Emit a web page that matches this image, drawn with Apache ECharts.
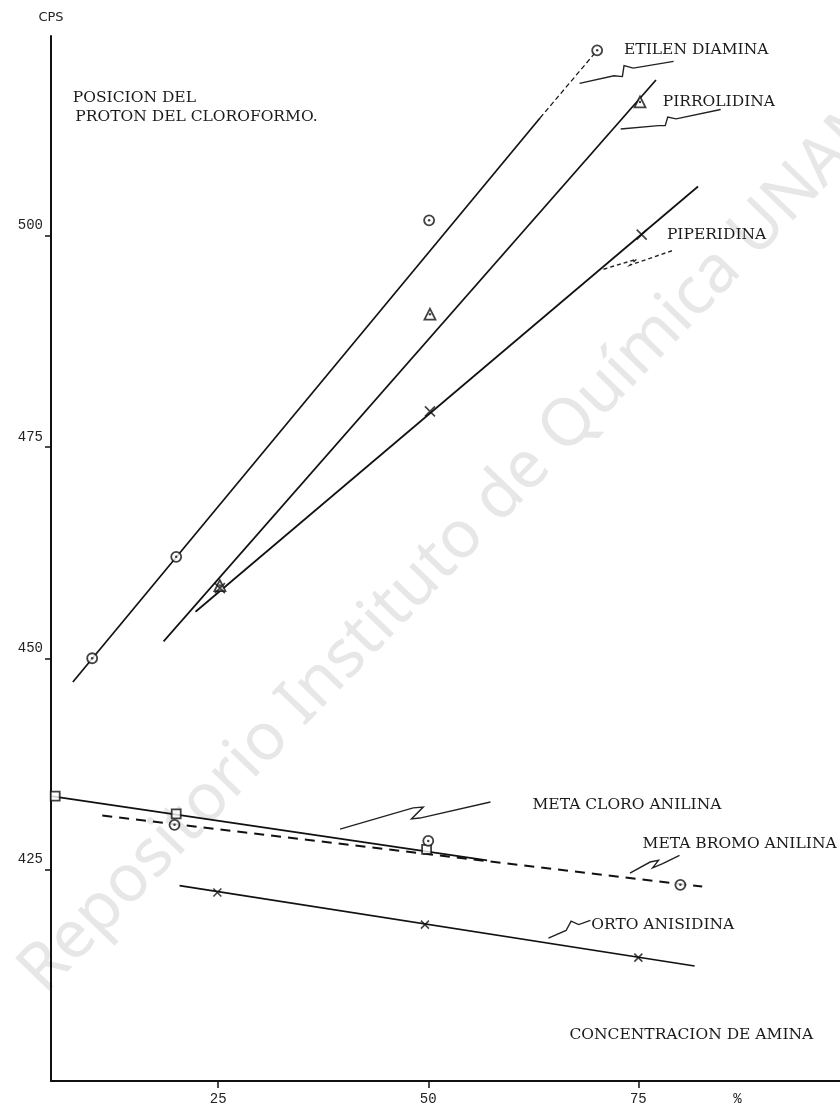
<!DOCTYPE html>
<html>
<head>
<meta charset="utf-8">
<script src="https://cdn.jsdelivr.net/npm/echarts@6/dist/echarts.min.js"></script>
<style>html,body{margin:0;padding:0;background:#fff}#chart{width:840px;height:1112px}</style>
</head>
<body>
<div id="chart"></div>
<script>
var xTicks = [25, 50, 75];
var yTicks = [425, 450, 475, 500];

// measured points: [concentracion %, CPS]
var etilenPts = [[10, 450.0], [20, 462.0], [50.1, 501.8], [70.1, 521.9]];
var pirrolPts = [[25.2, 458.6], [50.2, 490.7], [75.2, 515.8]];
var piperPts = [[25.2, 458.3], [50.2, 479.2], [75.4, 500.1]];
var mClPts = [[5.6, 433.7], [20, 431.6], [49.8, 427.4]];
var mBrPts = [[19.8, 430.3], [50.0, 428.4], [80.0, 423.2]];
var ortoPts = [[24.9, 422.3], [49.6, 418.5], [75.0, 414.6]];

// hand drawn fit lines
var etilenLine = [[7.7, 447.2], [63.3, 513.9]];
var etilenLineTop = [[63.3, 513.9], [70.1, 521.9]];
var pirrolLine = [[18.5, 452.0], [77.1, 518.4]];
var piperLine = [[22.3, 455.5], [82.1, 505.8]];
var mClLine = [[5.1, 433.7], [57.0, 426.1]];
var mBrLine = [[11.2, 431.4], [82.6, 423.0]];
var ortoLine = [[20.4, 423.1], [81.7, 413.6]];

// squiggly pointer arrows
var arrEtilen = [[79.2, 520.6], [74.4, 519.8], [73.3, 520.1], [73.1, 518.8], [72.1, 518.9], [68.0, 518.0]];
var arrPirrol = [[84.8, 514.9], [79.5, 513.8], [78.5, 514.0], [78.2, 513.0], [77.4, 513.0], [72.9, 512.6]];
var arrPiper = [[79.0, 498.2], [74.0, 496.5], [74.8, 497.2], [70.8, 496.0]];
var arrMCl = [[57.4, 433.0], [49.0, 431.1], [48.0, 431.0], [49.4, 432.4], [48.2, 432.3], [39.5, 429.8]];
var arrMBr = [[79.9, 426.7], [77.9, 425.7], [76.7, 425.2], [77.4, 426.1], [76.4, 425.9], [74.0, 424.6]];
var arrOrto = [[69.3, 419.0], [67.9, 418.5], [67.0, 418.9], [66.4, 417.8], [64.3, 416.9]];

// text labels [text, x, y]
var labels = [
    ['ETILEN DIAMINA', 73.3, 522.0],
    ['PIRROLIDINA', 77.9, 515.8],
    ['PIPERIDINA', 78.4, 500.1],
    ['META CLORO ANILINA', 62.4, 432.7],
    ['META BROMO ANILINA', 75.5, 428.0],
    ['ORTO ANISIDINA', 69.4, 418.5],
    ['CONCENTRACION DE AMINA', 66.8, 405.5],
    ['POSICION DEL', 7.7, 516.3],
    ['PROTON DEL CLOROFORMO.', 8.0, 514.0]
];

var chart = echarts.init(document.getElementById('chart'));

function fitLine(data, dashed, width) {
    return {
        type: 'line', data: data, symbol: 'none', silent: true, z: 3,
        lineStyle: {color: '#111', width: width || 1.7, type: dashed || 'solid'}
    };
}
function marks(data, symbol, size) {
    return {
        type: 'scatter', data: data, symbol: symbol, symbolSize: size, z: 4,
        itemStyle: {color: '#fff', borderColor: '#111', borderWidth: 1.8}
    };
}
function dots(data) {
    return {
        type: 'scatter', data: data, symbol: 'circle', symbolSize: 2.5, z: 5,
        itemStyle: {color: '#111'}
    };
}
function crosses(data, size) {
    return {
        type: 'scatter', data: data, symbol: 'path://M0,0L10,10M10,0L0,10', symbolSize: size, z: 4,
        itemStyle: {color: 'transparent', borderColor: '#111', borderWidth: 1.6}
    };
}
function arrow(coords, dashed) {
    return {
        type: 'lines', coordinateSystem: 'cartesian2d', polyline: true, silent: true, z: 3,
        symbol: ['none', 'arrow'], symbolSize: 7,
        lineStyle: {color: '#222', width: 1.4, type: dashed ? [4, 3] : 'solid', opacity: 1},
        data: [{coords: coords}]
    };
}

var option = {
    animation: false,
    grid: {left: 51, right: 0, top: 36, bottom: 31},
    xAxis: {
        type: 'value', min: 5.1, max: 99,
        splitLine: {show: false},
        axisLine: {onZero: false, lineStyle: {color: '#111', width: 2}},
        axisTick: {length: 7, customValues: xTicks, lineStyle: {color: '#111', width: 1.5}},
        axisLabel: {
            customValues: xTicks.concat([86.8]), margin: 11,
            fontFamily: 'Liberation Mono', fontSize: 14, color: '#222',
            formatter: function (v) { return v > 80 ? '%' : String(v); }
        }
    },
    yAxis: {
        type: 'value', min: 400, max: 523.6,
        name: 'CPS', nameGap: 12,
        nameTextStyle: {fontFamily: 'DejaVu Sans', fontSize: 13, color: '#222', align: 'center'},
        splitLine: {show: false},
        axisLine: {onZero: false, lineStyle: {color: '#111', width: 2}},
        axisTick: {length: 6, customValues: yTicks, lineStyle: {color: '#111', width: 1.5}},
        axisLabel: {
            customValues: yTicks, margin: 8, verticalAlign: 'bottom', padding: [0, 0, 3, 0],
            fontFamily: 'Liberation Mono', fontSize: 14, color: '#222'
        }
    },
    series: [
        fitLine(etilenLine), fitLine(etilenLineTop, [5, 3], 1.2),
        fitLine(pirrolLine), fitLine(piperLine),
        fitLine(mClLine), fitLine(mBrLine, [10, 7], 2), fitLine(ortoLine),
        marks(etilenPts, 'circle', 10), dots(etilenPts),
        marks(pirrolPts, 'triangle', 11), dots(pirrolPts),
        crosses(piperPts, 10),
        marks(mClPts, 'rect', 9),
        marks(mBrPts, 'circle', 10), dots(mBrPts),
        crosses(ortoPts, 8),
        arrow(arrEtilen), arrow(arrPirrol), arrow(arrPiper, true),
        arrow(arrMCl), arrow(arrMBr), arrow(arrOrto)
    ]
};

chart.setOption(option);

var graphics = labels.map(function (l) {
    var p = chart.convertToPixel({gridIndex: 0}, [l[1], l[2]]);
    return {
        type: 'text', x: p[0], y: p[1], z: 10,
        style: {text: l[0], fill: '#1a1a1a', font: '15.5px "DejaVu Serif"', textAlign: 'left', textVerticalAlign: 'middle'}
    };
});
graphics.push({
    type: 'text', x: 55, y: 1005, rotation: 46 * Math.PI / 180, z: -5,
    style: {text: 'Repositorio Instituto de Química UNAM', fill: '#e7e7e7', font: '66px "Noto Sans"', textAlign: 'left', textVerticalAlign: 'bottom'}
});
chart.setOption({graphic: graphics});
</script>
</body>
</html>
